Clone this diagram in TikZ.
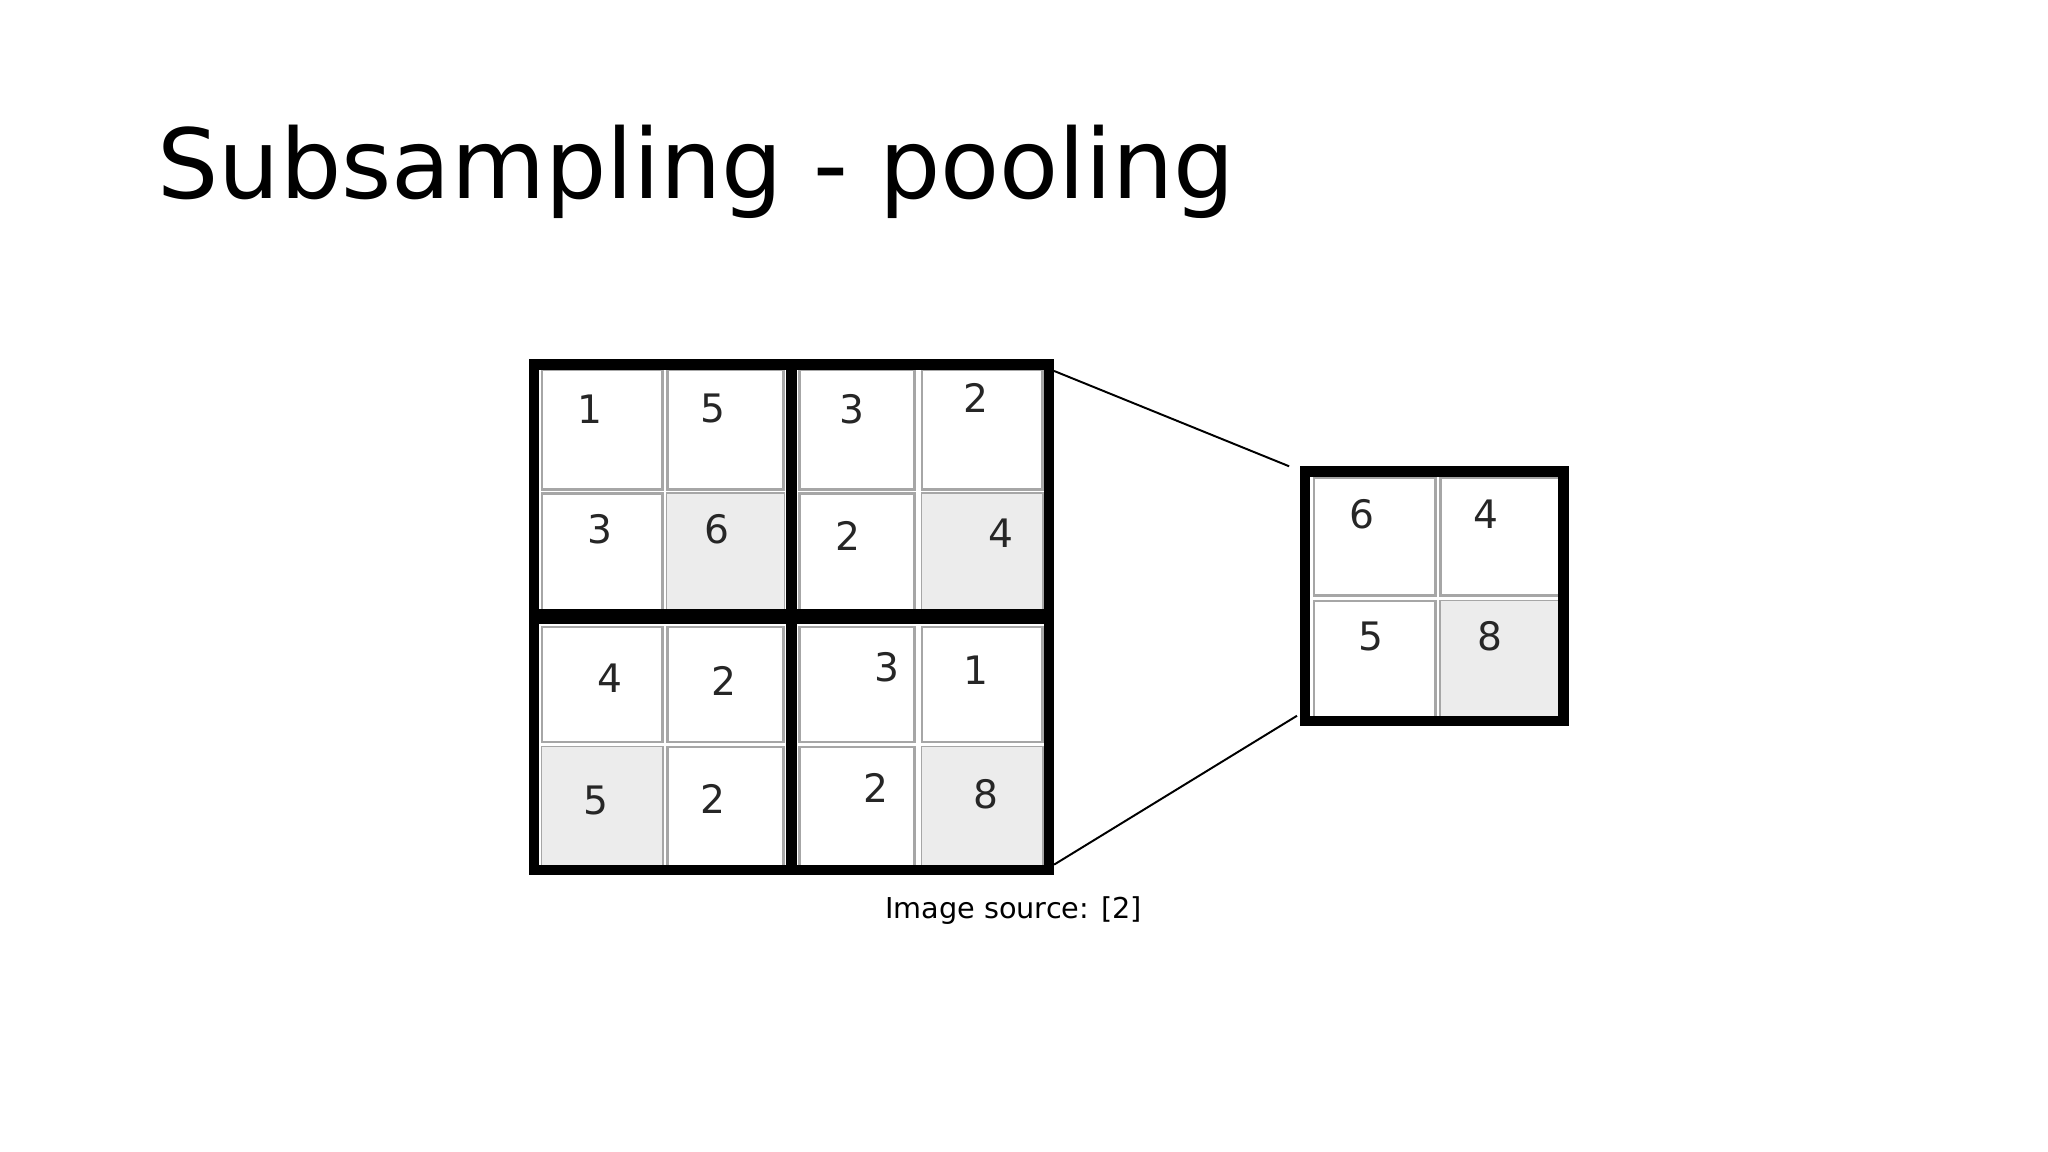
\documentclass[tikz,border=0pt]{standalone}
\usepackage{fontspec}
\setmainfont{DejaVu Sans}
\begin{document}
\begin{tikzpicture}[x=1pt,y=-1pt,
  cell/.style={draw=gray!70,line width=2pt},
  gcell/.style={cell,fill=gray!15},
  num/.style={font=\fontsize{30}{30}\selectfont,text=black!85}]
\useasboundingbox (0,0) rectangle (1568,882);
% big grid cells
\foreach \xa/\xb [count=\i] in {415/507,511/600,612/700,706/798}
 \foreach \ya/\yb [count=\j] in {283/375,378/467,480/568,572/663}
  \draw[cell] (\xa,\ya) rectangle (\xb,\yb);
\fill[gray!15] (511,378) rectangle (600,467);
\fill[gray!15] (706,378) rectangle (798,467);
\fill[gray!15] (415,572) rectangle (507,663);
\fill[gray!15] (706,572) rectangle (798,663);
\draw[line width=8pt] (409,279) rectangle (606,470);
\draw[line width=8pt] (606,279) rectangle (803,470);
\draw[line width=8pt] (409,474) rectangle (606,666);
\draw[line width=8pt] (606,474) rectangle (803,666);
% numbers
\node[num] (n1) at (452,313) {1};
\node[num] (n2) at (546,313) {5};
\node[num] (n3) at (652,313) {3};
\node[num] (n4) at (747,305) {2};
\node[num] (n5) at (459,405) {3};
\node[num] (n6) at (549,405) {6};
\node[num] (n7) at (649,410) {2};
\node[num] (n8) at (766,408) {4};
\node[num] (n9) at (467,519) {4};
\node[num] (n10) at (554,521) {2};
\node[num] (n11) at (679,511) {3};
\node[num] (n12) at (747,513) {1};
\node[num] (n13) at (456,613) {5};
\node[num] (n14) at (546,612) {2};
\node[num] (n15) at (671,603) {2};
\node[num] (n16) at (755,608) {8};
% small grid
\foreach \xa/\xb in {1006/1099,1103/1195}
 \foreach \ya/\yb in {366/456,460/549}
  \draw[cell] (\xa,\ya) rectangle (\xb,\yb);
\fill[gray!15] (1103,460) rectangle (1195,549);
\draw[line width=8pt] (999,361) rectangle (1197,552);
\node[num] (m1) at (1043,394) {6};
\node[num] (m2) at (1138,394) {4};
\node[num] (m3) at (1050,487) {5};
\node[num] (m4) at (1141,487) {8};
\coordinate (a1) at (807,284);
\coordinate (a2) at (987,357);
\coordinate (b1) at (807,662);
\coordinate (b2) at (993,548);
\draw[line width=1.5pt] (a1) -- (a2);
\draw[line width=1.5pt] (b1) -- (b2);
\node[anchor=base west,font=\fontsize{74}{74}\selectfont] (title) at (117,152) {Subsampling - pooling};
\node[font=\fontsize{22}{22}\selectfont] (cap) at (776,697) {Image source: [2]};
\end{tikzpicture}
\end{document}
